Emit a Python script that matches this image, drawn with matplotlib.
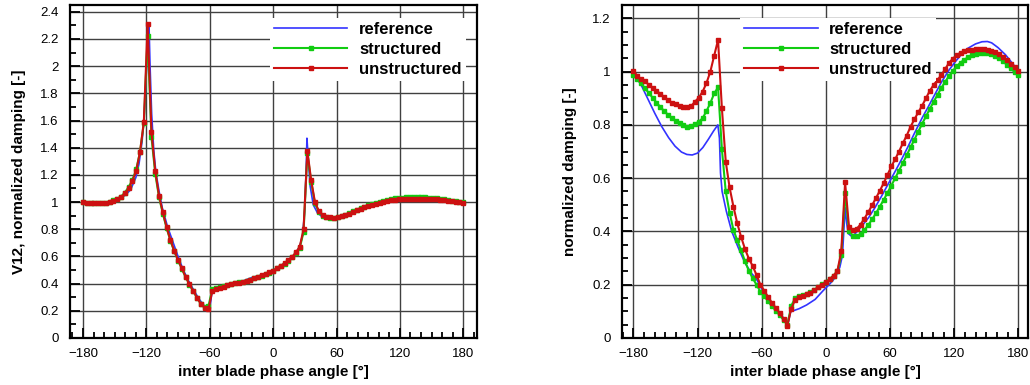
import numpy as np
import matplotlib
matplotlib.use("Agg")
import matplotlib.pyplot as plt
from matplotlib.ticker import MultipleLocator, FuncFormatter

plt.rcParams['font.family'] = ['Liberation Sans', 'DejaVu Sans']

# inter blade phase angle samples of the CFD runs (3.6 deg steps)
ibpa = np.linspace(-180, 180, 101)

# ---- left plot: V12
v12_unstr = [1.0, 0.99, 0.99, 0.99, 0.99, 0.99, 0.99, 1.0, 1.01, 1.02,
             1.035, 1.064, 1.10, 1.157, 1.23, 1.37, 1.59, 2.31, 1.517, 1.23,
             1.046, 0.924, 0.814, 0.72, 0.642, 0.574, 0.512, 0.45, 0.395, 0.345,
             0.296, 0.25, 0.223, 0.213, 0.346, 0.358, 0.37, 0.377, 0.387, 0.397,
             0.402, 0.407, 0.412, 0.419, 0.429, 0.441, 0.451, 0.461, 0.471, 0.483,
             0.495, 0.517, 0.532, 0.549, 0.574, 0.598, 0.63, 0.672, 0.80, 1.377,
             1.16, 1.0, 0.936, 0.904, 0.893, 0.887, 0.886, 0.89, 0.897, 0.905,
             0.915, 0.928, 0.94, 0.952, 0.962, 0.972, 0.98, 0.988, 0.996, 1.003,
             1.009, 1.014, 1.018, 1.02, 1.022, 1.024, 1.025, 1.026, 1.026, 1.026,
             1.025, 1.024, 1.022, 1.02, 1.017, 1.014, 1.01, 1.006, 1.002, 0.998,
             0.996]
v12_str = [1.0, 0.995, 0.995, 0.995, 0.995, 0.995, 0.995, 1.0, 1.012, 1.025,
           1.04, 1.07, 1.11, 1.165, 1.24, 1.37, 1.58, 2.22, 1.48, 1.21,
           1.035, 0.915, 0.808, 0.715, 0.637, 0.57, 0.508, 0.447, 0.393, 0.344,
           0.296, 0.252, 0.228, 0.235, 0.36, 0.37, 0.377, 0.383, 0.391, 0.4,
           0.405, 0.41, 0.415, 0.421, 0.43, 0.44, 0.449, 0.458, 0.468, 0.48,
           0.492, 0.512, 0.527, 0.545, 0.568, 0.593, 0.623, 0.662, 0.78, 1.36,
           1.15, 0.99, 0.93, 0.9, 0.891, 0.886, 0.886, 0.891, 0.898, 0.907,
           0.918, 0.931, 0.943, 0.955, 0.966, 0.976, 0.985, 0.994, 1.002, 1.01,
           1.017, 1.022, 1.027, 1.03, 1.032, 1.034, 1.035, 1.036, 1.036, 1.036,
           1.035, 1.033, 1.031, 1.028, 1.024, 1.02, 1.015, 1.01, 1.005, 1.0,
           0.997]
v12_ref_x = [-180, -170, -160, -150, -140, -135, -130, -127, -124, -122,
             -120, -118.5, -117.5, -116.5, -115, -113, -111, -108, -105, -100,
             -95, -90, -85, -80, -75, -70, -65, -61, -60, -58,
             -55, -50, -40, -30, -20, -10, 0, 10, 20, 25,
             28, 30, 31.5, 32, 33, 35, 38, 42, 46, 52,
             58, 65, 75, 90, 105, 120, 135, 150, 165, 180]
v12_ref = [1.0, 0.99, 0.99, 1.01, 1.05, 1.09, 1.18, 1.28, 1.45, 1.65,
           1.95, 2.2, 2.3, 2.0, 1.65, 1.38, 1.22, 1.08, 0.96, 0.82,
           0.71, 0.6, 0.5, 0.42, 0.35, 0.285, 0.235, 0.205, 0.22, 0.33,
           0.355, 0.37, 0.395, 0.415, 0.445, 0.465, 0.495, 0.545, 0.61, 0.67,
           0.76, 0.95, 1.3, 1.47, 1.35, 1.12, 0.98, 0.92, 0.895, 0.885,
           0.885, 0.895, 0.925, 0.97, 1.005, 1.02, 1.025, 1.022, 1.01, 0.995]

# ---- right plot
nd_unstr = [1.003, 0.985, 0.971, 0.963, 0.951, 0.94, 0.929, 0.916, 0.905, 0.894,
            0.883, 0.878, 0.872, 0.868, 0.867, 0.87, 0.887, 0.902, 0.925, 0.957,
            1.0, 1.06, 1.119, 0.862, 0.662, 0.565, 0.493, 0.43, 0.379, 0.334,
            0.298, 0.27, 0.236, 0.2, 0.178, 0.154, 0.132, 0.112, 0.094, 0.072,
            0.046, 0.11, 0.142, 0.153, 0.159, 0.164, 0.17, 0.18, 0.19, 0.2,
            0.21, 0.22, 0.234, 0.252, 0.325, 0.584, 0.418, 0.404, 0.41, 0.426,
            0.448, 0.472, 0.498, 0.525, 0.552, 0.581, 0.612, 0.644, 0.671, 0.700,
            0.731, 0.760, 0.793, 0.821, 0.847, 0.872, 0.9, 0.928, 0.95, 0.969,
            0.987, 1.01, 1.033, 1.049, 1.062, 1.071, 1.077, 1.08, 1.082, 1.083,
            1.084, 1.083, 1.08, 1.076, 1.072, 1.066, 1.055, 1.044, 1.03, 1.016,
            1.003]
nd_str = [0.988, 0.971, 0.956, 0.938, 0.92, 0.902, 0.884, 0.867, 0.852, 0.838,
          0.825, 0.815, 0.806, 0.798, 0.793, 0.796, 0.803, 0.812, 0.825, 0.852,
          0.882, 0.918, 0.941, 0.709, 0.55, 0.47, 0.406, 0.366, 0.329, 0.288,
          0.252, 0.224, 0.2, 0.174, 0.157, 0.138, 0.119, 0.103, 0.086, 0.068,
          0.05, 0.12, 0.15, 0.157, 0.161, 0.166, 0.172, 0.181, 0.191, 0.201,
          0.211, 0.221, 0.234, 0.25, 0.31, 0.544, 0.403, 0.383, 0.382, 0.39,
          0.405, 0.424, 0.445, 0.468, 0.493, 0.518, 0.545, 0.572, 0.6, 0.628,
          0.657, 0.686, 0.716, 0.745, 0.775, 0.804, 0.832, 0.86, 0.887, 0.913,
          0.939, 0.962, 0.984, 1.003, 1.02, 1.034, 1.045, 1.054, 1.061, 1.066,
          1.069, 1.07, 1.069, 1.065, 1.059, 1.05, 1.039, 1.026, 1.012, 0.999,
          0.987]
nd_ref_x = [-180, -172, -166, -160, -153.5, -147, -141, -135, -130, -125,
            -120, -115, -110, -105, -101, -99.5, -98.5, -97, -93, -88,
            -82, -76, -70, -65, -60, -55, -50, -45, -40, -36,
            -35, -33, -30, -25, -18, -10, -2.5, 3, 7, 10,
            13, 15.5, 16.5, 18, 19.5, 21, 24, 27, 30, 34,
            40, 46, 52, 58, 65, 71, 77, 83, 90, 96,
            102, 108, 115, 121, 127, 133, 140, 146, 151, 155,
            161, 168, 174, 180]
nd_ref = [1.0, 0.944, 0.894, 0.844, 0.794, 0.752, 0.72, 0.698, 0.689, 0.687,
          0.694, 0.715, 0.745, 0.777, 0.80, 0.75, 0.62, 0.55, 0.475, 0.40,
          0.34, 0.285, 0.245, 0.222, 0.185, 0.153, 0.124, 0.099, 0.077, 0.058,
          0.06, 0.098, 0.103, 0.11, 0.124, 0.145, 0.178, 0.2, 0.218, 0.238,
          0.265, 0.31, 0.38, 0.49, 0.43, 0.392, 0.382, 0.39, 0.403, 0.422,
          0.452, 0.49, 0.532, 0.576, 0.627, 0.672, 0.72, 0.77, 0.826, 0.87,
          0.915, 0.96, 1.005, 1.037, 1.066, 1.088, 1.104, 1.112, 1.113, 1.108,
          1.09, 1.063, 1.033, 1.003]

fig = plt.figure(figsize=(10.3, 3.85), dpi=100)
ax1 = fig.add_axes([70/1030, 47/385, 407/1030, 333/385])
ax2 = fig.add_axes([622/1030, 47/385, 406/1030, 333/385])

def fmt(v, pos):
    return '%g' % round(v, 3)

def style(ax, xlim, ylim, ymin_step, ylabel, leg_x, ylpad):
    ax.set_xlim(*xlim)
    ax.set_ylim(*ylim)
    ax.xaxis.set_major_locator(MultipleLocator(60))
    ax.xaxis.set_minor_locator(MultipleLocator(10))
    ax.yaxis.set_major_locator(MultipleLocator(0.2))
    ax.yaxis.set_minor_locator(MultipleLocator(ymin_step))
    ax.yaxis.set_major_formatter(FuncFormatter(fmt))
    ax.tick_params(which='both', direction='in', top=False, right=False,
                   labelsize=9.5, width=1.3, colors='black')
    ax.tick_params(axis='x', which='major', length=7, pad=7)
    ax.tick_params(axis='y', which='major', length=7, pad=8)
    ax.tick_params(which='minor', length=4)
    ax.grid(True, which='major', color='0.25', lw=1.0)
    ax.set_axisbelow(True)
    for s in ax.spines.values():
        s.set_linewidth(1.6)
    ax.set_xlabel('inter blade phase angle [°]', fontsize=11, fontweight='bold', labelpad=4)
    ax.set_ylabel(ylabel, fontsize=11, fontweight='bold', labelpad=ylpad)
    leg = ax.legend(loc='upper left', bbox_to_anchor=(leg_x, 0.962), borderaxespad=0,
                    frameon=True, fancybox=False, framealpha=1, edgecolor='white',
                    facecolor='white', handlelength=4.4, handletextpad=0.7,
                    labelspacing=0.3, borderpad=0.25,
                    prop={'weight': 'bold', 'size': 12})
    leg.get_frame().set_linewidth(0)

for ax, rx, ry, s, u in [(ax1, v12_ref_x, v12_ref, v12_str, v12_unstr),
                         (ax2, nd_ref_x, nd_ref, nd_str, nd_unstr)]:
    ax.plot(rx, ry, color='#3333ff', lw=1.2, label='reference', zorder=3)
    ax.plot(ibpa, s, color='#11cc11', lw=1.5, marker='s', ms=2.6, label='structured', zorder=4)
    ax.plot(ibpa, u, color='#cc1111', lw=1.5, marker='s', ms=2.6, label='unstructured', zorder=5)

style(ax1, (-192.3, 193), (0, 2.45), 0.1, 'V12, normalized damping [-]', 0.491, 10)
style(ax2, (-190.6, 189), (0, 1.25), 0.05, 'normalized damping [-]', 0.291, 11)

fig.savefig('out.png', dpi=100)
